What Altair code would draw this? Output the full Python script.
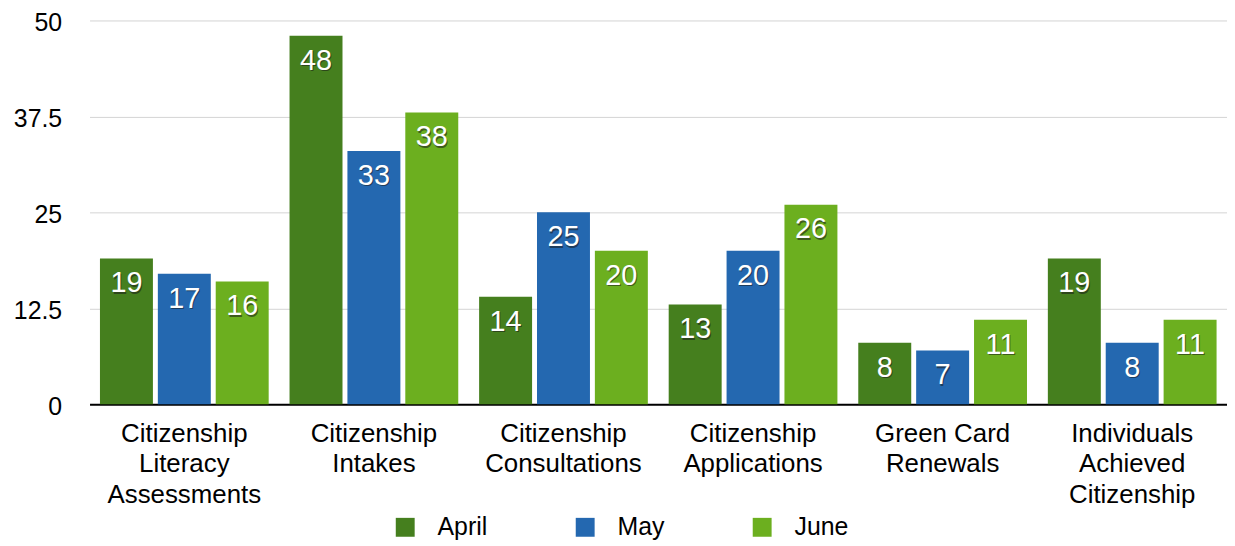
import altair as alt
import pandas as pd

categories = [
    "Citizenship|Literacy|Assessments",
    "Citizenship|Intakes",
    "Citizenship|Consultations",
    "Citizenship|Applications",
    "Green Card|Renewals",
    "Individuals|Achieved|Citizenship",
]
months = ["April", "May", "June"]
april = [19, 48, 14, 13, 8, 19]
may = [17, 33, 25, 20, 7, 8]
june = [16, 38, 20, 26, 11, 11]
colors = ["#457F1E", "#2468B0", "#6CAF1F"]
y_ticks = [0, 12.5, 25, 37.5, 50]

rows = []
for series, vals in zip(months, [april, may, june]):
    for c, v in zip(categories, vals):
        rows.append({"category": c, "month": series, "value": v})
df = pd.DataFrame(rows)

FONT = "Liberation Sans"

x_enc = alt.X(
    "category:N",
    sort=categories,
    scale=alt.Scale(paddingInner=0.11, paddingOuter=0.055),
    axis=alt.Axis(
        title=None,
        labelExpr="split(datum.label, '|')",
        labelAngle=0,
        labelFontSize=26,
        labelLineHeight=31,
        labelPadding=16,
        labelColor="#000000",
        labelFont=FONT,
        labelLimit=400,
        labelBaseline="top",
        ticks=False,
        domainColor="#000000",
        domainWidth=2,
        grid=False,
    ),
)
xoff = alt.XOffset("month:N", sort=months, scale=alt.Scale(paddingInner=0.085))
y_enc = alt.Y(
    "value:Q",
    scale=alt.Scale(domain=[0, 50], nice=False),
    axis=alt.Axis(
        title=None,
        values=y_ticks,
        labelExpr="'' + datum.value",
        labelFontSize=25,
        labelFont=FONT,
        labelColor="#000000",
        labelPadding=28,
        labelOffset=2,
        ticks=False,
        domain=False,
        grid=True,
        gridColor="#d4d4d4",
        gridWidth=1,
    ),
)

base = alt.Chart(df)

bars = base.mark_bar().encode(
    x=x_enc,
    xOffset=xoff,
    y=y_enc,
    color=alt.Color(
        "month:N",
        sort=months,
        scale=alt.Scale(domain=months, range=colors),
        legend=alt.Legend(
            title=None,
            orient="none",
            direction="horizontal",
            legendX=305,
            legendY=497,
            symbolType="square",
            symbolSize=361,
            symbolStrokeWidth=0,
            symbolOpacity=1,
            labelFontSize=25,
            labelFont=FONT,
            labelColor="#000000",
            labelOffset=20,
            columnPadding=85,
            padding=0,
        ),
    ),
)

shadow = base.mark_text(
    baseline="alphabetic", align="center", dy=35.5, dx=1, fontSize=29, font=FONT,
    color="#1a1a1a", opacity=0.55,
).encode(x=x_enc, xOffset=xoff, y=y_enc, text="value:Q")

labels = base.mark_text(
    baseline="alphabetic", align="center", dy=34, fontSize=29, font=FONT, color="#ffffff",
).encode(x=x_enc, xOffset=xoff, y=y_enc, text="value:Q")

chart = (
    alt.layer(bars, shadow, labels)
    .properties(
        width=1144,
        height=386,
        autosize=alt.AutoSizeParams(type="none"),
        padding={"left": 82, "top": 11, "right": 0, "bottom": 138},
    )
    .configure_view(stroke=None)
)

chart.save("out.html", embed_options={"renderer": "svg", "actions": False})
